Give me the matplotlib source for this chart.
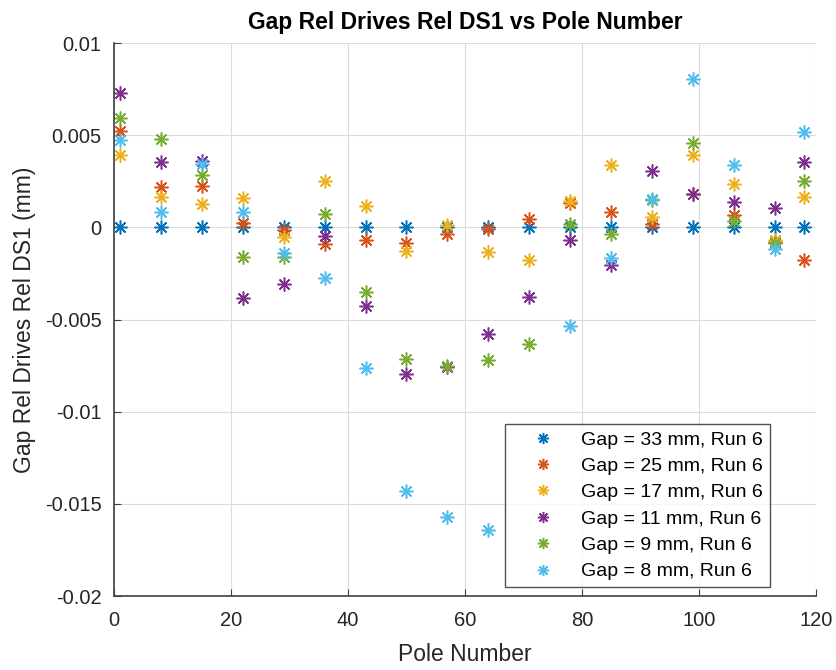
import numpy as np
import matplotlib.pyplot as plt

plt.rcParams['font.family'] = ['Liberation Sans', 'DejaVu Sans']

# pole positions along the array
poles = [1, 8, 15, 22, 29, 36, 43, 50, 57, 64, 71, 78, 85, 92, 99, 106, 113, 118]

# gap relative to drives, relative to DS1 (mm), one list per gap setting
gap33 = [0, 0, 0, 0, 0, 0, 0, 0, 0, 0, 0, 0, 0, 0, 0, 0, 0, 0]
gap25 = [0.0052, 0.0022, 0.00226, 0.00022, -0.00014, -0.0009, -0.00067, -0.00085,
         -0.00036, -0.0001, 0.00045, 0.0013, 0.00085, 0.00018, 0.0018, 0.00069,
         -0.0008, -0.00177]
gap17 = [0.0039, 0.00162, 0.00126, 0.00159, -0.00054, 0.00253, 0.00114, -0.0013,
         0.00012, -0.00132, -0.00177, 0.00144, 0.0034, 0.00054, 0.00392, 0.00235,
         -0.00069, 0.00166]
gap11 = [0.0073, 0.00357, 0.0036, -0.00384, -0.00307, -0.00045, -0.00424, -0.00793,
         -0.0076, -0.0058, -0.00379, -0.00067, -0.00204, 0.00307, 0.0018, 0.00139,
         0.00105, 0.00357]
gap9 = [0.00595, 0.00482, 0.00285, -0.00159, -0.0016, 0.00072, -0.00352, -0.00712,
        -0.0075, -0.00721, -0.00635, 0.00018, -0.00036, 0.0015, 0.00455, 0.00032,
        -0.00087, 0.00253]
gap8 = [0.00473, 0.00085, 0.00343, 0.00085, -0.00141, -0.00274, -0.00765, -0.0143,
        -0.0157, -0.0164, np.nan, -0.00537, -0.00168, 0.00153, 0.00807, 0.0034,
        -0.00117, 0.00518]

series = [gap33, gap25, gap17, gap11, gap9, gap8]
labels = ['Gap = 33 mm, Run 6', 'Gap = 25 mm, Run 6', 'Gap = 17 mm, Run 6',
          'Gap = 11 mm, Run 6', 'Gap = 9 mm, Run 6', 'Gap = 8 mm, Run 6']
colors = ['#0072BD', '#D95319', '#EDB120', '#7E2F8E', '#77AC30', '#4DBEEE']

fig = plt.figure(figsize=(8.36, 6.7), dpi=100)
ax = fig.add_axes([0.1364, 0.1104, 0.8396, 0.8254])

for vals, lab, col in zip(series, labels, colors):
    ax.plot(poles, vals, linestyle='none', marker=(8, 2, 0), markersize=10,
            markeredgewidth=1.1, color=col, label=lab)

ax.set_xlim(0, 120)
ax.set_ylim(-0.02, 0.01)
ax.set_xticks(np.arange(0, 121, 20))
ax.set_yticks([-0.02, -0.015, -0.01, -0.005, 0, 0.005, 0.01])
ax.set_yticklabels(['-0.02', '-0.015', '-0.01', '-0.005', '0', '0.005', '0.01'])

ax.grid(True, color='#dcdcdc', linewidth=0.8)
ax.set_axisbelow(True)
for side in ['top', 'right']:
    ax.spines[side].set_visible(False)
for side in ['left', 'bottom']:
    ax.spines[side].set_color('#404040')
    ax.spines[side].set_linewidth(1.2)
ax.tick_params(direction='in', length=5, colors='#404040', labelsize=14.5,
               labelcolor='#262626')
ax.tick_params(axis='x', pad=11)
ax.tick_params(axis='y', pad=9)

ax.set_xlabel('Pole Number', fontsize=16.5, color='#262626', labelpad=9)
ax.set_ylabel('Gap Rel Drives Rel DS1 (mm)', fontsize=16.5, color='#262626',
              labelpad=6)
ax.set_title('Gap Rel Drives Rel DS1 vs Pole Number', fontsize=16.5,
             fontweight='bold', color='black', pad=10)

leg = ax.legend(loc='lower right', bbox_to_anchor=(0.9345, 0.016), fontsize=14,
                frameon=True, fancybox=False, edgecolor='#262626',
                borderaxespad=0, handletextpad=0.3, borderpad=0.35,
                labelspacing=0.45, handlelength=3.3, markerscale=0.8)
leg.get_frame().set_linewidth(1.0)

fig.savefig('out.png', dpi=100)
